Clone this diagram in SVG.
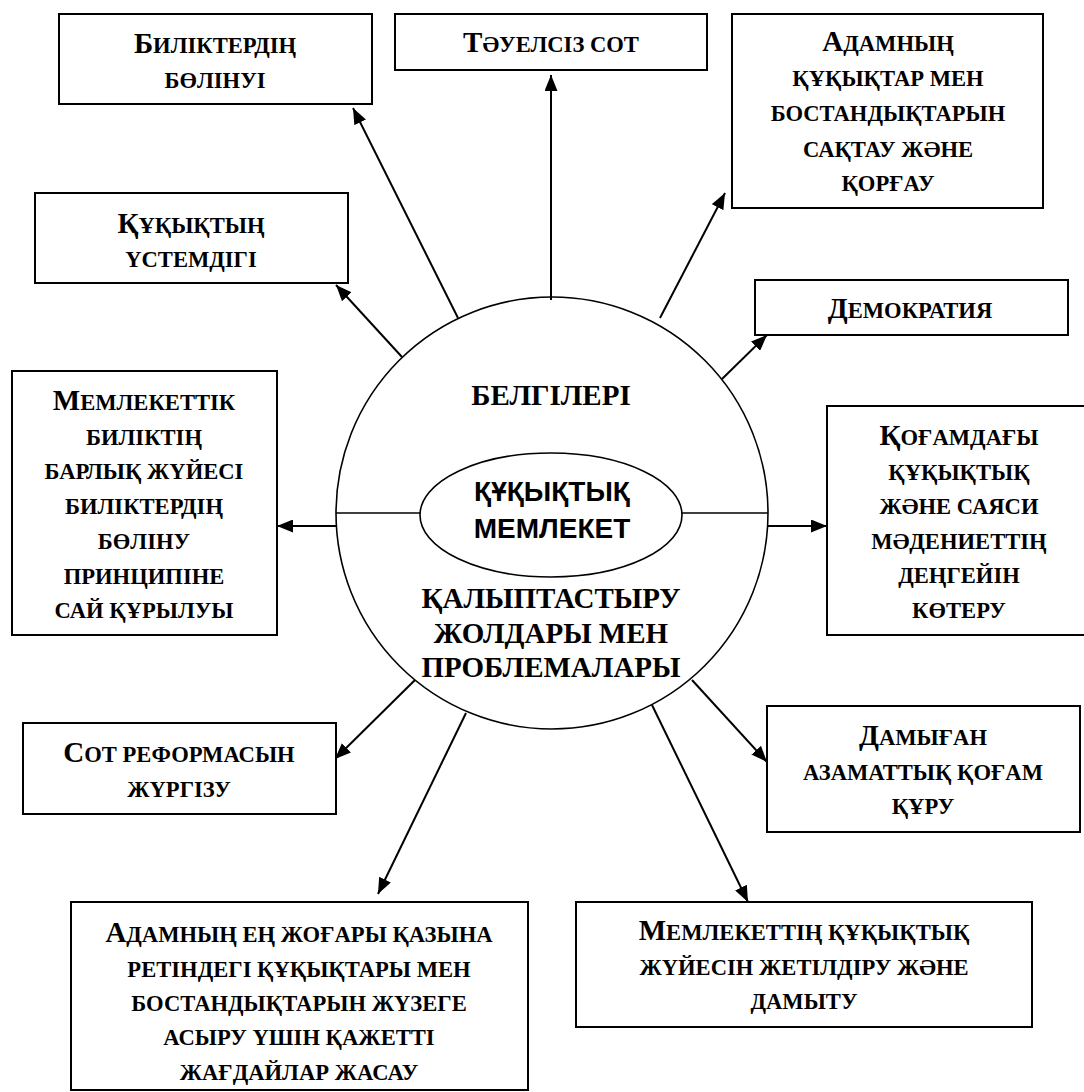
<svg xmlns="http://www.w3.org/2000/svg" width="1084" height="1092" viewBox="0 0 1084 1092">
<defs>
<marker id="ah" viewBox="0 0 16 13" markerWidth="16" markerHeight="13" refX="16" refY="6.5" orient="auto" markerUnits="userSpaceOnUse">
<path d="M0,0 L16,6.5 L0,13 z" fill="#000"/>
</marker>
<style>
.box{fill:#fff;stroke:#000;stroke-width:2}
.t{font-family:"Liberation Serif","DejaVu Serif",serif;font-weight:bold;font-size:22.6px;text-anchor:middle;fill:#000}
.b{font-size:29px}
.c{font-family:"Liberation Serif","DejaVu Serif",serif;font-weight:bold;font-size:29px;text-anchor:middle;fill:#000}
.s{font-family:"Liberation Sans","DejaVu Sans",sans-serif;font-weight:bold;font-size:28px;text-anchor:middle;fill:#000}
.ln{stroke:#000;stroke-width:2;fill:none;marker-end:url(#ah)}
</style>
</defs>
<rect width="1084" height="1092" fill="#fff"/>

<g id="center">
<circle cx="552" cy="513" r="216" fill="#fff" stroke="#000" stroke-width="1.6"/>
<line x1="336" y1="513" x2="421" y2="513" stroke="#000" stroke-width="1.6"/>
<line x1="682" y1="513" x2="768" y2="513" stroke="#000" stroke-width="1.6"/>
<ellipse cx="551" cy="515" rx="131" ry="62" fill="#fff" stroke="#000" stroke-width="1.6"/>
<text class="s" x="552" y="501">ҚҰҚЫҚТЫҚ</text>
<text class="s" x="552" y="538">МЕМЛЕКЕТ</text>
<text class="c" x="551" y="405">БЕЛГІЛЕРІ</text>
<text class="c" x="551" y="608">ҚАЛЫПТАСТЫРУ</text>
<text class="c" x="551" y="643">ЖОЛДАРЫ МЕН</text>
<text class="c" x="551" y="677">ПРОБЛЕМАЛАРЫ</text>
</g>

<g id="connectors">
<line class="ln" x1="458" y1="318" x2="353" y2="108"/>
<line class="ln" x1="551" y1="300" x2="551" y2="75"/>
<line class="ln" x1="660" y1="318" x2="725" y2="193"/>
<line class="ln" x1="722" y1="379" x2="767" y2="335"/>
<line class="ln" x1="402" y1="357" x2="336" y2="285"/>
<line class="ln" x1="336" y1="526" x2="277" y2="526"/>
<line class="ln" x1="767" y1="526" x2="827" y2="526"/>
<line class="ln" x1="415" y1="680" x2="335" y2="759"/>
<line class="ln" x1="466" y1="713" x2="378" y2="894"/>
<line class="ln" x1="692" y1="680" x2="767" y2="762"/>
<line class="ln" x1="652" y1="705" x2="748" y2="902"/>
</g>

<g id="n1">
<rect class="box" x="59" y="14" width="313" height="90"/>
<text class="t" x="215" y="53"><tspan class="b">Б</tspan>ИЛІКТЕРДІҢ</text>
<text class="t" x="215" y="88">БӨЛІНУІ</text>
</g>

<g id="n2">
<rect class="box" x="395" y="14" width="312" height="56"/>
<text class="t" x="551" y="52"><tspan class="b">Т</tspan>ӘУЕЛСІЗ СОТ</text>
</g>

<g id="n3">
<rect class="box" x="732" y="14" width="311" height="194"/>
<text class="t" x="888" y="51"><tspan class="b">А</tspan>ДАМНЫҢ</text>
<text class="t" x="888" y="86">ҚҰҚЫҚТАР МЕН</text>
<text class="t" x="888" y="121">БОСТАНДЫҚТАРЫН</text>
<text class="t" x="888" y="157">САҚТАУ ЖӘНЕ</text>
<text class="t" x="888" y="191">ҚОРҒАУ</text>
</g>

<g id="n4">
<rect class="box" x="755" y="280" width="313" height="55"/>
<text class="t" x="910" y="318"><tspan class="b">Д</tspan>ЕМОКРАТИЯ</text>
</g>

<g id="n5">
<rect class="box" x="35" y="193" width="313" height="90"/>
<text class="t" x="191" y="233"><tspan class="b">Қ</tspan>ҰҚЫҚТЫҢ</text>
<text class="t" x="191" y="267">ҮСТЕМДІГІ</text>
</g>

<g id="n6">
<rect class="box" x="12" y="371" width="265" height="264"/>
<text class="t" x="144" y="410"><tspan class="b">М</tspan>ЕМЛЕКЕТТІК</text>
<text class="t" x="144" y="445">БИЛІКТІҢ</text>
<text class="t" x="144" y="479">БАРЛЫҚ ЖҮЙЕСІ</text>
<text class="t" x="144" y="514">БИЛІКТЕРДІҢ</text>
<text class="t" x="144" y="549">БӨЛІНУ</text>
<text class="t" x="144" y="584">ПРИНЦИПІНЕ</text>
<text class="t" x="144" y="618">САЙ ҚҰРЫЛУЫ</text>
</g>

<g id="n7">
<rect class="box" x="827" y="406" width="264" height="229"/>
<text class="t" x="959" y="445"><tspan class="b">Қ</tspan>ОҒАМДАҒЫ</text>
<text class="t" x="959" y="480">ҚҰҚЫҚТЫҚ</text>
<text class="t" x="959" y="514">ЖӘНЕ САЯСИ</text>
<text class="t" x="959" y="549">МӘДЕНИЕТТІҢ</text>
<text class="t" x="959" y="583">ДЕҢГЕЙІН</text>
<text class="t" x="959" y="618">КӨТЕРУ</text>
</g>

<g id="n8">
<rect class="box" x="23" y="723" width="313" height="91"/>
<text class="t" x="179" y="762"><tspan class="b">С</tspan>ОТ РЕФОРМАСЫН</text>
<text class="t" x="179" y="797">ЖҮРГІЗУ</text>
</g>

<g id="n9">
<rect class="box" x="71" y="902" width="457" height="188"/>
<text class="t" x="299" y="942"><tspan class="b">А</tspan>ДАМНЫҢ ЕҢ ЖОҒАРЫ ҚАЗЫНА</text>
<text class="t" x="299" y="977">РЕТІНДЕГІ ҚҰҚЫҚТАРЫ МЕН</text>
<text class="t" x="299" y="1011">БОСТАНДЫҚТАРЫН ЖҮЗЕГЕ</text>
<text class="t" x="299" y="1045">АСЫРУ ҮШІН ҚАЖЕТТІ</text>
<text class="t" x="299" y="1080">ЖАҒДАЙЛАР ЖАСАУ</text>
</g>

<g id="n10">
<rect class="box" x="767" y="706" width="313" height="126"/>
<text class="t" x="923" y="745"><tspan class="b">Д</tspan>АМЫҒАН</text>
<text class="t" x="923" y="780">АЗАМАТТЫҚ ҚОҒАМ</text>
<text class="t" x="923" y="814">ҚҰРУ</text>
</g>

<g id="n11">
<rect class="box" x="576" y="902" width="456" height="125"/>
<text class="t" x="804" y="940"><tspan class="b">М</tspan>ЕМЛЕКЕТТІҢ ҚҰҚЫҚТЫҚ</text>
<text class="t" x="804" y="975">ЖҮЙЕСІН ЖЕТІЛДІРУ ЖӘНЕ</text>
<text class="t" x="804" y="1009">ДАМЫТУ</text>
</g>
</svg>
